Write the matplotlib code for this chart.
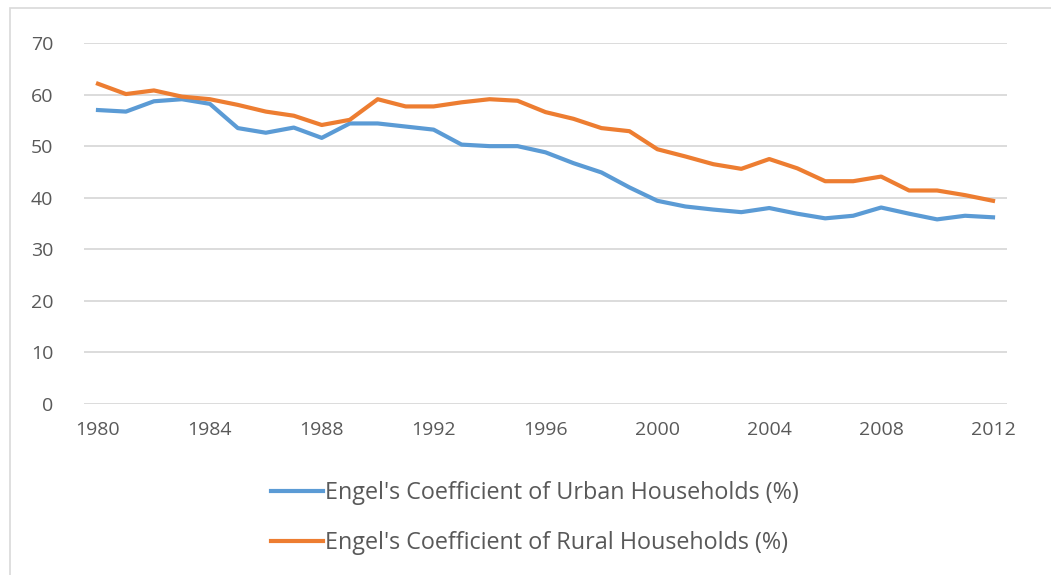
import matplotlib.pyplot as plt
from matplotlib.patches import Rectangle

years = list(range(1980, 2013))

urban = [57.0, 56.7, 58.7, 59.1, 58.2, 53.5, 52.6, 53.6, 51.6, 54.4,
         54.4, 53.8, 53.2, 50.3, 50.0, 50.0, 48.8, 46.7, 44.9, 42.0,
         39.4, 38.3, 37.7, 37.2, 38.0, 36.9, 36.0, 36.5, 38.1, 36.9,
         35.8, 36.5, 36.2]

rural = [62.1, 60.1, 60.8, 59.6, 59.1, 58.0, 56.7, 55.9, 54.1, 55.1,
         59.1, 57.7, 57.7, 58.5, 59.1, 58.8, 56.6, 55.3, 53.5, 52.9,
         49.4, 48.0, 46.5, 45.6, 47.5, 45.7, 43.2, 43.2, 44.1, 41.4,
         41.4, 40.5, 39.4]

labels = ["Engel's Coefficient of Urban Households (%)",
          "Engel's Coefficient of Rural Households (%)"]

plt.rcParams["font.family"] = ["Open Sans", "DejaVu Sans"]

fig = plt.figure(figsize=(10.51, 5.75), dpi=100)

# thin frame around the chart area
fig.patches.append(Rectangle((10 / 1051, -0.1), 1.2, 1.1 - 8 / 575,
                             transform=fig.transFigure, fill=False,
                             edgecolor="#d9d9d9", linewidth=1.2))

ax = fig.add_axes([84 / 1051, 171 / 575, 923 / 1051, 361 / 575])

ax.plot(years, urban, color="#5B9BD5", linewidth=3, label=labels[0])
ax.plot(years, rural, color="#ED7D31", linewidth=3, label=labels[1])

ax.set_xlim(1979.5, 2012.5)
ax.set_ylim(0, 70)
ax.set_xticks(range(1980, 2013, 4))
ax.set_yticks(range(0, 71, 10))

ax.grid(axis="y", color="#d9d9d9", linewidth=1.3)
ax.set_axisbelow(True)
for s in ax.spines.values():
    s.set_visible(False)

ax.tick_params(axis="both", length=0, labelsize=14, labelcolor="#595959")
ax.tick_params(axis="y", pad=22)
ax.tick_params(axis="x", pad=12)

fig.legend(loc="center", bbox_to_anchor=(0.509, 0.099), frameon=False,
           fontsize=16.8, labelcolor="#595959", handlelength=2.2,
           handletextpad=0.1, labelspacing=1.1)

fig.savefig("out.png", dpi=100)
